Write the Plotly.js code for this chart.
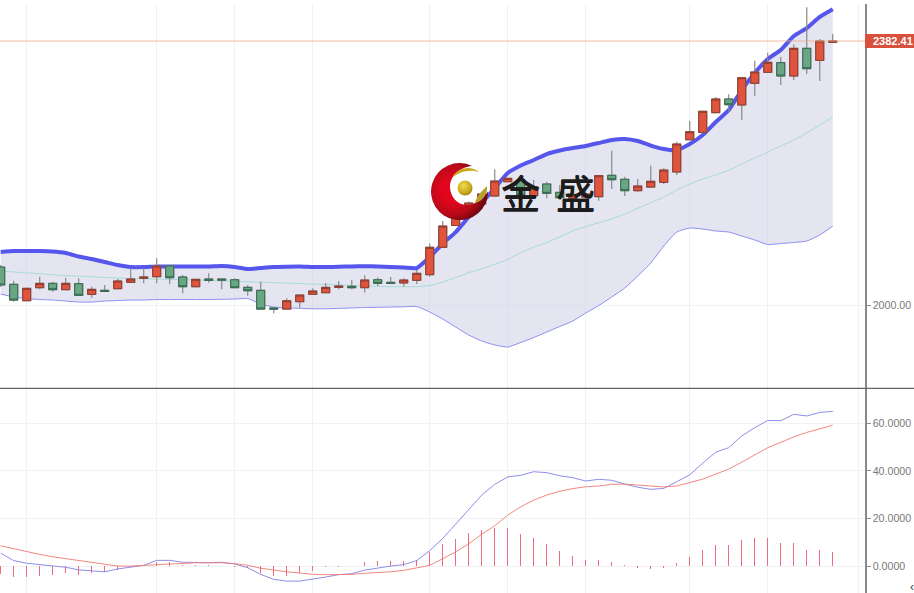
<!DOCTYPE html>
<html><head><meta charset="utf-8">
<script src="https://cdn.plot.ly/plotly-3.0.1.min.js"></script>
<style>html,body{margin:0;padding:0;background:#fff;overflow:hidden}</style></head>
<body><div id="chart" style="width:914px;height:593px"></div>
<script>
const openP=[2055.0,2030.0,2006.2,2025.1,2031.4,2022.2,2030.9,2015.5,2021.3,2023.6,2032.9,2038.7,2041.0,2056.5,2040.6,2026.5,2037.7,2037.7,2036.6,2025.6,2021.3,1995.7,1994.2,2004.8,2015.5,2017.8,2025.6,2027.1,2025.1,2036.6,2032.9,2031.9,2035.8,2043.9,2083.6,2115.2,2137.6,2146.3,2157.9,2178.6,2181.1,2158.3,2175.3,2163.2,2154.6,2156.4,2156.9,2187.9,2182.1,2165.6,2170.9,2177.7,2192.7,2239.4,2250.2,2278.6,2298.4,2289.7,2321.1,2337.1,2351.0,2331.7,2371.8,2354.4,2380.5];
const highP=[2057.9,2035.2,2024.5,2041.0,2033.8,2039.5,2038.7,2026.5,2029.0,2037.7,2053.2,2053.2,2067.6,2056.8,2043.5,2037.4,2045.9,2038.0,2038.7,2029.0,2033.8,1997.1,2010.1,2014.8,2024.2,2032.3,2034.8,2036.2,2043.0,2040.1,2040.6,2038.7,2050.7,2089.4,2121.7,2146.0,2150.0,2163.0,2196.6,2183.8,2184.0,2181.1,2178.6,2173.8,2166.6,2165.0,2187.6,2223.5,2185.8,2182.5,2201.8,2198.0,2236.5,2266.5,2280.9,2301.3,2305.2,2329.5,2353.9,2365.5,2359.7,2377.6,2431.2,2385.3,2392.5];
const lowP=[2026.1,2004.8,2005.8,2022.7,2019.3,2021.7,2013.5,2010.6,2018.8,2023.2,2032.6,2031.4,2031.4,2030.4,2016.9,2025.3,2032.3,2022.7,2024.2,2013.5,1993.8,1988.0,1993.8,1995.7,2014.5,2016.9,2022.7,2022.7,2017.8,2027.5,2031.1,2026.5,2030.4,2041.0,2082.6,2114.4,2135.0,2145.0,2156.9,2178.3,2158.0,2153.5,2154.6,2154.6,2152.1,2154.0,2151.1,2168.0,2157.9,2164.1,2169.9,2175.3,2188.3,2239.0,2249.9,2277.7,2280.0,2268.0,2303.2,2336.5,2318.7,2325.9,2334.6,2324.5,2380.2];
const closeP=[2029.0,2007.2,2024.2,2031.4,2022.2,2031.4,2014.1,2022.7,2019.8,2034.8,2037.7,2040.6,2056.5,2039.5,2026.5,2037.2,2035.8,2036.2,2025.1,2020.7,1994.2,1994.2,2006.2,2014.5,2020.3,2025.6,2027.5,2025.1,2036.2,2031.4,2031.4,2036.2,2045.9,2083.6,2114.4,2144.9,2147.7,2160.8,2179.6,2183.5,2159.3,2171.4,2161.8,2155.4,2160.3,2160.8,2187.3,2181.5,2165.6,2172.4,2179.2,2195.5,2233.2,2251.0,2280.6,2298.4,2290.1,2329.2,2337.5,2351.6,2331.7,2371.8,2342.3,2382.4,2382.41];
const upperBand=[2076.8,2078.2,2078.2,2078.2,2077.5,2075.3,2070.3,2066.6,2062.3,2057.9,2055.0,2055.0,2055.8,2055.8,2055.8,2055.8,2055.8,2056.5,2055.0,2052.1,2053.6,2055.0,2055.5,2055.8,2055.0,2055.0,2055.5,2055.9,2056.2,2055.9,2055.0,2054.3,2053.6,2069.5,2089.1,2105.7,2127.5,2147.7,2169.5,2191.2,2202.1,2210.0,2218.7,2223.8,2227.4,2230.3,2234.7,2239.0,2240.5,2237.6,2231.0,2226.0,2224.5,2233.2,2246.2,2265.1,2282.5,2311.4,2336.1,2356.3,2369.4,2389.6,2401.2,2417.2,2428.3];
const midBand=[2049.2,2047.8,2046.4,2044.9,2043.5,2042.7,2042.0,2040.6,2039.8,2039.1,2038.4,2037.7,2037.7,2036.9,2036.9,2036.2,2035.5,2034.8,2034.0,2033.3,2032.6,2031.9,2031.1,2030.4,2029.7,2029.0,2028.2,2027.5,2027.1,2026.8,2026.5,2026.5,2026.5,2028.2,2033.3,2039.8,2047.1,2052.1,2058.7,2065.9,2076.0,2084.0,2090.5,2099.2,2107.2,2113.7,2119.5,2124.6,2131.8,2139.8,2147.7,2156.4,2166.6,2175.3,2182.5,2188.3,2195.5,2204.2,2212.9,2221.6,2230.3,2239.0,2249.1,2260.7,2272.3];
const lowerBand=[2015.9,2011.6,2009.4,2008.0,2007.2,2005.8,2004.3,2004.3,2005.8,2006.5,2007.2,2007.2,2008.0,2008.0,2008.0,2008.0,2008.0,2008.3,2008.7,2009.4,2001.4,1997.1,1995.7,1995.2,1994.6,1994.6,1995.1,1995.7,1996.4,1996.7,1997.1,1997.4,1997.8,1989.9,1979.7,1968.1,1956.5,1947.9,1942.1,1939.2,1945.7,1952.9,1960.9,1968.9,1976.8,1988.4,1999.3,2011.6,2024.6,2042.0,2060.8,2085.5,2105.7,2111.5,2110.1,2107.2,2105.7,2099.9,2094.2,2087.6,2089.1,2090.5,2092.7,2101.4,2114.4];
const dif=[5.5,2.4,1.3,0.7,0,-0.4,-1.5,-2.0,-2.3,-1.1,-0.2,0.4,2.5,2.5,1.7,1.5,1.5,1.7,1.0,-0.6,-3.4,-5.5,-6.2,-6.2,-5.5,-4.5,-3.5,-3.1,-1.6,-0.6,0.1,0.7,2.4,6.6,11.7,17.7,23.9,29.9,34.4,37.5,38.2,39.7,39.3,38.0,37.2,35.8,36.5,36.1,34.5,33.2,32.3,32.7,35.5,38.4,43.3,47.9,49.8,54.7,58.2,61.2,61.1,63.8,63.1,64.6,65.0];
const dea=[8.6,7.4,5.9,5.0,4.0,3.2,2.2,1.4,0.8,0.1,0.1,0.4,0.8,1.1,1.5,1.5,1.5,1.5,1.1,0.4,-0.8,-1.7,-2.3,-2.8,-3.4,-3.5,-3.5,-3.4,-2.9,-2.7,-2.3,-1.7,-0.8,0.4,3.2,6.1,9.4,13.5,17.0,21.5,25.0,27.8,29.9,31.5,32.6,33.4,33.7,34.4,34.5,34.0,33.6,33.3,33.7,35.1,36.6,38.7,40.8,43.7,46.8,49.8,52.0,54.3,56.2,57.7,59.2];
const macdBars=[-3.1,-4.5,-4.5,-3.9,-3.8,-2.8,-3.6,-2.9,-2.4,-1.4,-0.3,0.3,1.7,1.8,0.5,0.5,0.5,0.3,-0.3,-0.7,-2.8,-3.9,-3.9,-2.8,-2.1,-0.4,-0.3,0.3,2.0,2.4,2.2,2.4,2.7,5.9,9.5,11.6,14.0,15.1,16.1,16.1,13.6,12.0,9.4,6.6,4.5,2.7,2.7,1.8,0.4,-0.7,-1.3,-0.6,1.5,3.8,6.7,9.1,9.1,10.9,11.8,11.8,9.7,9.7,7.0,7.0,6.0];
const gridCandles=[2,12,18,24,33,39,45,53,59,66];
const priceTicks=[2000], priceLabels=['2000.00'];
const macdTicks=[0,20,40,60], macdLabels=['0.0000','20.0000','40.0000','60.0000'];
const lastPrice=2382.41, lastLabel='2382.41';
const brand=['金','盛'];

const idx=openP.map((_,i)=>i);
const bodyHigh=openP.map((o,i)=>Math.max(o,closeP[i]));
const bodyLow=openP.map((o,i)=>Math.min(o,closeP[i]));
const RED='#e0533d',GREEN='#69a684';
const logo=`<svg xmlns="http://www.w3.org/2000/svg" width="171" height="171" viewBox="0 0 57 57">
<defs><radialGradient id="r" gradientUnits="userSpaceOnUse" cx="22" cy="27" r="34"><stop offset="0.35" stop-color="#e0061c"/><stop offset="0.72" stop-color="#b80a18"/><stop offset="1" stop-color="#6a0610"/></radialGradient>
<radialGradient id="g" cx="0.4" cy="0.35" r="0.7"><stop offset="0" stop-color="#f0dc50"/><stop offset="0.7" stop-color="#c8a818"/><stop offset="1" stop-color="#9a7e10"/></radialGradient></defs>
<path d="M41 3 A28.5 28.5 0 1 0 57 28.5 C51 37 43 42 36 42 C26 42 19 33 19 24 C19 12 30 4 41 3 Z" fill="url(#r)"/>
<path d="M21 15 C26 4 40 2 48 9 C38 6 28 9 21 15 Z" fill="#c9ab22"/>
<path d="M44 40 C46 32 51 28 56 23 C57 31 52 38 44 40 Z" fill="#b8a030"/>
<circle cx="34" cy="25" r="7.5" fill="url(#g)"/></svg>`;

const bandLine={shape:'spline',smoothing:0.5};
const data=[
 {type:'scatter',mode:'lines',x:idx,y:lowerBand,xaxis:'x',yaxis:'y',line:{color:'#7f80ee',width:0.9,...bandLine},hoverinfo:'skip'},
 {type:'scatter',mode:'lines',x:idx,y:upperBand,xaxis:'x',yaxis:'y',fill:'tonexty',fillcolor:'rgba(205,207,230,0.55)',line:{color:'#5656ec',width:4,...bandLine},hoverinfo:'skip'},
 {type:'scatter',mode:'lines',x:idx,y:midBand,xaxis:'x',yaxis:'y',line:{color:'#a6dcd6',width:1},hoverinfo:'skip'},
 {type:'candlestick',x:idx,open:openP,high:highP,low:lowP,close:closeP,xaxis:'x',yaxis:'y3',
  increasing:{line:{color:'#8a8a8a',width:1.2},fillcolor:RED},decreasing:{line:{color:'#8a8a8a',width:1.2},fillcolor:GREEN},hoverinfo:'skip'},
 {type:'candlestick',x:idx,open:openP,high:bodyHigh,low:bodyLow,close:closeP,xaxis:'x',yaxis:'y3',
  increasing:{line:{color:'#8c3d2e',width:1},fillcolor:RED},decreasing:{line:{color:'#33694f',width:1},fillcolor:GREEN},hoverinfo:'skip'},
 {type:'bar',x:idx,y:macdBars,width:0.1,xaxis:'x2',yaxis:'y2',marker:{color:'#ee6a7c',line:{width:0}},hoverinfo:'skip'},
 {type:'scatter',mode:'lines',x:idx,y:dif,xaxis:'x2',yaxis:'y2',line:{color:'#8080ea',width:0.9},hoverinfo:'skip'},
 {type:'scatter',mode:'lines',x:idx,y:dea,xaxis:'x2',yaxis:'y2',line:{color:'#f07a70',width:0.9},hoverinfo:'skip'}
];
const xr=[-0.054,66.48];
const tickFont={family:'"Liberation Sans",Arial,sans-serif',size:10.7,color:'#7a7a7a'};
const xBase={range:xr,tickmode:'array',tickvals:gridCandles,showticklabels:false,ticks:'',showgrid:true,gridcolor:'#eff2f5',gridwidth:1,zeroline:false,showline:false,rangeslider:{visible:false},fixedrange:true};
const yBase={side:'right',showline:true,linecolor:'#8a8a8a',linewidth:1.5,ticks:'outside',ticklen:4,tickcolor:'#8a8a8a',tickfont:tickFont,gridcolor:'#f0f2f5',zeroline:false,fixedrange:true,tickmode:'array'};
const W=865;
const brandFont={family:'"Noto Sans CJK SC"',size:39,color:'#1c1c1c',shadow:'0.5px 0 0 #1c1c1c, 0 0.5px 0 #1c1c1c'};
const layout={
 width:914,height:593,margin:{l:0,r:49,t:4,b:0},paper_bgcolor:'#fff',plot_bgcolor:'rgba(0,0,0,0)',showlegend:false,bargap:0,
 boxgap:0.12,
 xaxis:{...xBase,anchor:'y'},
 xaxis2:{...xBase,anchor:'y2'},
 yaxis:{...yBase,domain:[0.348,1],range:[1879.8,2436],tickvals:priceTicks,ticktext:priceLabels,anchor:'x'},
 yaxis2:{...yBase,domain:[0,0.3463],range:[-11.2,74.4],tickvals:macdTicks,ticktext:macdLabels,anchor:'x2'},
 yaxis3:{overlaying:'y',side:'right',range:[1879.8,2436],visible:false,fixedrange:true,anchor:'x'},
 shapes:[
  {type:'line',xref:'paper',x0:0,x1:1,yref:'y',y0:lastPrice,y1:lastPrice,line:{color:'#f0a888',width:0.8}},
  {type:'rect',xref:'paper',x0:1,x1:1.06,yref:'y',ysizemode:'pixel',yanchor:lastPrice,y0:-7,y1:7,fillcolor:'#d9503c',line:{width:0}},
  {type:'line',xref:'paper',x0:0,x1:1.06,yref:'paper',y0:0.3475,y1:0.3475,line:{color:'#666',width:1.3}}
 ],
 annotations:[
  {xref:'paper',yref:'y',x:1,y:lastPrice,xanchor:'left',yanchor:'middle',xshift:6,showarrow:false,text:'<b>'+lastLabel+'</b>',font:{family:'"Liberation Sans",Arial,sans-serif',size:11,color:'#fff'}},
  {xref:'paper',yref:'paper',x:520.5/W,y:(593-190.5)/589,xanchor:'center',yanchor:'middle',showarrow:false,text:brand[0],font:brandFont},
  {xref:'paper',yref:'paper',x:575.5/W,y:(593-190.5)/589,xanchor:'center',yanchor:'middle',showarrow:false,text:brand[1],font:brandFont},
  {xref:'paper',yref:'paper',x:912/W,y:(593-587)/589,xanchor:'center',yanchor:'middle',showarrow:false,text:'‹',font:{family:'"Liberation Sans"',size:12,color:'#444'}}
 ],
 images:[{source:'data:image/svg+xml;charset=utf-8,'+encodeURIComponent(logo),xref:'paper',yref:'paper',x:431/W,y:(593-163)/589,sizex:57/W,sizey:57/589,sizing:'stretch',xanchor:'left',yanchor:'top',layer:'above'}]
};
Plotly.newPlot('chart',data,layout,{displayModeBar:false,staticPlot:true});
</script></body></html>
